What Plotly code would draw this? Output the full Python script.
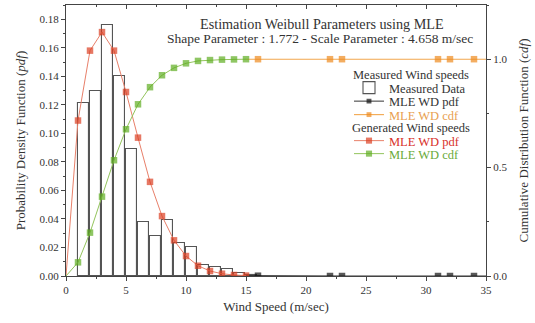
import plotly.graph_objects as go

# ---- data ----
meas_bins = [1, 2, 3, 4, 5, 6, 7, 8, 9, 10, 11, 12, 13, 14, 15]
meas_hist = [0.121, 0.130, 0.176, 0.140, 0.089, 0.038, 0.028, 0.039, 0.023,
             0.020, 0.008, 0.006, 0.005, 0.002, 0.001]

gen_speed = [0, 1, 2, 3, 4, 5, 6, 7, 8, 9, 10, 11, 12, 13, 14, 15]
gen_pdf = [0.0, 0.109, 0.158, 0.171, 0.158, 0.129, 0.097, 0.066, 0.042, 0.025,
           0.014, 0.0072, 0.0035, 0.0016, 0.0007, 0.0003]
gen_cdf = [0.0, 0.063, 0.200, 0.366, 0.534, 0.677, 0.792, 0.871, 0.926, 0.960,
           0.981, 0.992, 0.996, 0.998, 0.999, 1.0]

meas_speed = [15, 16, 22, 23, 31, 32, 34, 35]
meas_pdf = [0.0003, 0.0002, 0.0, 0.0, 0.0, 0.0, 0.0, 0.0]
meas_cdf = [1.0, 1.0, 1.0, 1.0, 1.0, 1.0, 1.0, 1.0]
meas_marker_size = [0, 6.5, 6.5, 6.5, 6.5, 6.5, 6.5, 0]
gen_marker_size = [0] + [6.5] * 15

FONT = "Liberation Serif"
RED_M, RED_L = "#dc3f22", "#e8806a"
GRN_M, GRN_L = "#5fae22", "#93c45c"
ORG_M, ORG_L = "#ee8a1e", "#f2a64c"

fig = go.Figure()

fig.add_trace(go.Bar(
    x=[b + 0.45 for b in meas_bins], y=meas_hist, width=0.86,
    marker=dict(color="white", line=dict(color="#555555", width=1.1)),
    name="Measured Data", legend="legend"))

fig.add_trace(go.Scatter(
    x=meas_speed, y=meas_pdf, mode="lines+markers", name="MLE WD pdf",
    line=dict(color="#333333", width=1),
    marker=dict(symbol="square", size=meas_marker_size, color="#111111", line=dict(width=0)),
    legend="legend2"))

fig.add_trace(go.Scatter(
    x=meas_speed, y=meas_cdf, mode="lines+markers", name="MLE WD cdf",
    line=dict(color=ORG_L, width=1.1),
    marker=dict(symbol="square", size=meas_marker_size, color=ORG_M, line=dict(width=0)),
    yaxis="y2", legend="legend3"))

fig.add_trace(go.Scatter(
    x=gen_speed, y=gen_pdf, mode="lines+markers", name="MLE WD pdf",
    line=dict(color=RED_L, width=1),
    marker=dict(symbol="square", size=gen_marker_size, color=RED_M, line=dict(width=0)),
    legend="legend4"))

fig.add_trace(go.Scatter(
    x=gen_speed, y=gen_cdf, mode="lines+markers", name="MLE WD cdf",
    line=dict(color=GRN_L, width=1),
    marker=dict(symbol="square", size=gen_marker_size, color=GRN_M, line=dict(width=0)),
    yaxis="y2", legend="legend5"))

# plot area in pixels: left 66, right 486, top 5, bottom 276
W, H = 535, 323
L, R, T, B = 66, 49, 5, 47
ph = H - T - B


def py(px):
    return (H - B - px) / ph


def px_x(px):
    return (px - L) / (W - L - R)


LEGF = 12.5
leg_common = dict(xanchor="left", yanchor="middle", bgcolor="rgba(0,0,0,0)",
                  borderwidth=0, x=px_x(349), tracegroupgap=0,
                  itemwidth=30)
fig.update_layout(
    legend=dict(y=py(88), font=dict(family=FONT, size=LEGF, color="#333333"), **leg_common),
    legend2=dict(y=py(101.5), font=dict(family=FONT, size=LEGF, color="#333333"), **leg_common),
    legend3=dict(y=py(115), font=dict(family=FONT, size=LEGF, color="#e8a050"), **leg_common),
    legend4=dict(y=py(141), font=dict(family=FONT, size=LEGF, color="#d8302a"), **leg_common),
    legend5=dict(y=py(154), font=dict(family=FONT, size=LEGF, color="#6aaa3a"), **leg_common),
)

axis_font = dict(family=FONT, size=11, color="#333333")

fig.update_layout(
    width=W, height=H,
    margin=dict(l=L, r=R, t=T, b=B, autoexpand=False),
    paper_bgcolor="white", plot_bgcolor="white",
    font=dict(family=FONT, color="#333333"),
    showlegend=True,
    bargap=0,
    xaxis=dict(range=[0, 35], tick0=0, dtick=5, ticks="outside", ticklen=4,
               tickcolor="#444", showline=True, linecolor="#444", linewidth=1.3,
               mirror=True, showgrid=False, zeroline=False, tickfont=axis_font,
               automargin=False,
               minor=dict(dtick=2.5, ticks="outside", ticklen=2, tickcolor="#444"),
               title=dict(text="Wind Speed (m/sec)", font=dict(family=FONT, size=13, color="#333"),
                          standoff=6)),
    xaxis2=dict(overlaying="x", matches="x", side="top", range=[0, 35], dtick=5,
                ticks="inside", ticklen=4, tickcolor="#444", showticklabels=False,
                showgrid=False, zeroline=False, showline=False, automargin=False,
                minor=dict(dtick=2.5, ticks="inside", ticklen=2, tickcolor="#444")),
    yaxis=dict(range=[0, 0.19], tick0=0, dtick=0.02, tickformat=".2f", ticks="outside",
               ticklen=4, tickcolor="#444", showline=True, linecolor="#444", linewidth=1.3,
               showgrid=False, zeroline=False, tickfont=axis_font, automargin=False,
               minor=dict(dtick=0.01, ticks="outside", ticklen=2, tickcolor="#444"),
               title=dict(text="Probability Density Function (<i>pdf</i>)",
                          font=dict(family=FONT, size=13, color="#333"), standoff=10)),
    yaxis2=dict(range=[0, 1.25], tick0=0, dtick=0.5, tickformat=".1f", overlaying="y",
                side="right", ticks="outside", ticklen=4, tickcolor="#444",
                showline=True, linecolor="#444", linewidth=1.3, showgrid=False,
                zeroline=False, tickfont=axis_font, automargin=False,
                minor=dict(dtick=0.25, ticks="outside", ticklen=2, tickcolor="#444"),
                title=dict(text="Cumulative Distribution Function (<i>cdf</i>)",
                           font=dict(family=FONT, size=13, color="#333"), standoff=12)),
)

# dummy trace to activate top axis ticks
fig.add_trace(go.Scatter(x=[None], y=[None], xaxis="x2", showlegend=False, hoverinfo="skip"))

ann = dict(xref="paper", yref="paper", showarrow=False, yanchor="middle")
fig.add_annotation(text="Estimation Weibull Parameters using MLE",
                   x=px_x(322), y=py(24), xanchor="center",
                   font=dict(family=FONT, size=14.2, color="#333"), **ann)
fig.add_annotation(text="Shape Parameter : 1.772 - Scale Parameter : 4.658 m/sec",
                   x=px_x(320), y=py(38.5), xanchor="center",
                   font=dict(family=FONT, size=13.5, color="#333"), **ann)
fig.add_annotation(text="Measured Wind speeds", x=px_x(351), xanchor="left", y=py(75),
                   font=dict(family=FONT, size=LEGF, color="#333"), **ann)
fig.add_annotation(text="Generated Wind speeds", x=px_x(350), xanchor="left", y=py(128),
                   font=dict(family=FONT, size=LEGF, color="#333"), **ann)

fig.write_html("out.html", config={"displayModeBar": False},
               post_script="document.body.style.margin='0';document.body.style.padding='0';")
